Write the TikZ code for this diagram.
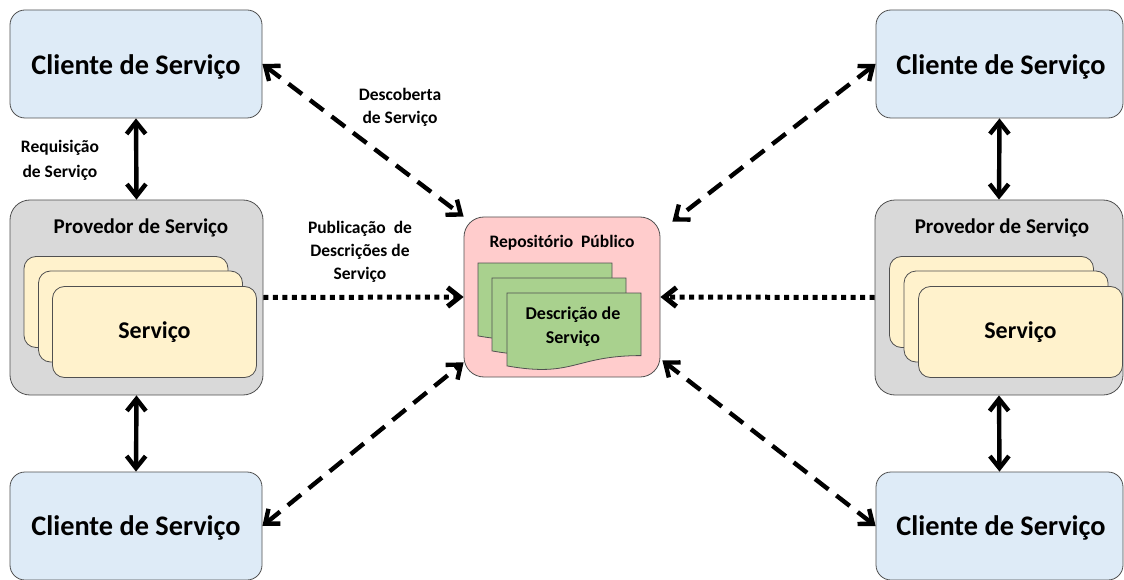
\documentclass[tikz,border=0pt]{standalone}
\usepackage{fontspec}
\setmainfont{Carlito}
\usetikzlibrary{arrows.meta}

\definecolor{clientblue}{HTML}{DEEBF7}
\definecolor{provgray}{HTML}{D9D9D9}
\definecolor{servyellow}{HTML}{FFF2CC}
\definecolor{repopink}{HTML}{FFCCCC}
\definecolor{docgreen}{HTML}{A9D18E}
\definecolor{edgegray}{HTML}{505050}

\begin{document}
\begin{tikzpicture}[x=1pt,y=-1pt,
  box/.style={draw=edgegray, line width=0.8pt, rounded corners=#1, inner sep=0pt, align=center},
  client/.style={box=15pt, fill=clientblue, minimum height=108pt},
  clientlabel/.style={font=\bfseries\fontsize{28.3}{30}\selectfont, inner sep=0pt},
  provider/.style={box=20pt, fill=provgray, minimum height=195pt},
  card/.style={box=12pt, fill=servyellow, minimum width=204pt, minimum height=91pt,
    font=\bfseries\fontsize{24}{26}\selectfont},
  repository/.style={box=20pt, fill=repopink, minimum width=196pt, minimum height=160pt},
  heading/.style={font=\bfseries\fontsize{21}{23}\selectfont, inner sep=0pt},
  note/.style={font=\bfseries\fontsize{17.5}{23}\selectfont, align=center, inner sep=0pt},
  docpage/.style={draw=edgegray, line width=0.8pt, fill=docgreen},
  barbs/.style={{Straight Barb[length=12pt,width=19pt]}-{Straight Barb[length=12pt,width=19pt]}},
  request/.style={line width=4.4pt, barbs},
  discovery/.style={line width=4.4pt, dash pattern=on 17pt off 10pt, barbs},
  publish/.style={line width=5pt, dash pattern=on 5pt off 4.5pt,
    -{Straight Barb[length=12pt,width=19pt]}}
]
\useasboundingbox (0,0) rectangle (1124,580);

% clients
\node[client, minimum width=252pt] (cliTL) at (136,64) {};
\node[client, minimum width=252pt] (cliBL) at (136,526) {};
\node[client, minimum width=247pt] (cliTR) at (999.5,64) {};
\node[client, minimum width=247pt] (cliBR) at (999.5,526) {};
\node[clientlabel] (cliTLtext) at (136,67) {Cliente de Serviço};
\node[clientlabel] (cliBLtext) at (136,528) {Cliente de Serviço};
\node[clientlabel] (cliTRtext) at (1001,67) {Cliente de Serviço};
\node[clientlabel] (cliBRtext) at (1001,528) {Cliente de Serviço};

% left provider with its stacked services
\node[provider, minimum width=253pt] (provL) at (136.5,297.5) {};
\node[heading] (provLtitle) at (141,228) {Provedor de Serviço};
\node[card] (svcL1) at (126,302) {};
\node[card] (svcL2) at (140.5,316.5) {};
\node[card] (svcL3) at (154.5,332) {Serviço};

% right provider with its stacked services
\node[provider, minimum width=248pt] (provR) at (999,297.5) {};
\node[heading] (provRtitle) at (1002,228) {Provedor de Serviço};
\node[card] (svcR1) at (991.5,302) {};
\node[card] (svcR2) at (1006,316.5) {};
\node[card] (svcR3) at (1020.5,332) {Serviço};

% public repository with its description pages
\node[repository] (repo) at (562,297) {};
\node[heading, font=\bfseries\fontsize{17.5}{20}\selectfont] (repotitle) at (562,243) {Repositório\ \ Público};
\foreach \px/\py in {478/263, 492/278, 507/293}{
  \begin{scope}[shift={(\px,\py)}]
    \path[docpage] (0,0) -- (134,0) -- (134,62.6)
      .. controls (67,62.6) and (67,84.9) .. (0,72.9) -- cycle;
  \end{scope}
}
\node[note, font=\bfseries\fontsize{18}{24}\selectfont] (desc) at (573,327) {Descrição de\\Serviço};

% request links
\draw[request] (cliTL.south) -- (provL.north);
\draw[request] (provL.south) -- (cliBL.north);
\draw[request] (cliTR.south) -- (provR.north);
\draw[request] (provR.south) -- (cliBR.north);

% discovery links
\draw[discovery] (cliTL.east) -- (repo.north west);
\draw[discovery] (cliTR.west) -- ([xshift=12pt,yshift=-5pt]repo.north east);
\draw[discovery] (cliBL.east) -- ([yshift=15pt]repo.south west);
\draw[discovery] (cliBR.west) -- ([xshift=2pt,yshift=17pt]repo.south east);

% publication links
\draw[publish] (provL.east) -- (repo.west);
\draw[publish] (provR.west) -- (repo.east);

% labels
\node[note] (lblDisc) at (400,107) {Descoberta\\de Serviço};
\node[note, font=\bfseries\fontsize{17.5}{25}\selectfont] (lblReq) at (60,160) {Requisição\\de Serviço};
\node[note] (lblPub) at (360,252) {Publicação\ \ de\\Descrições de\\Serviço};
\end{tikzpicture}
\end{document}
